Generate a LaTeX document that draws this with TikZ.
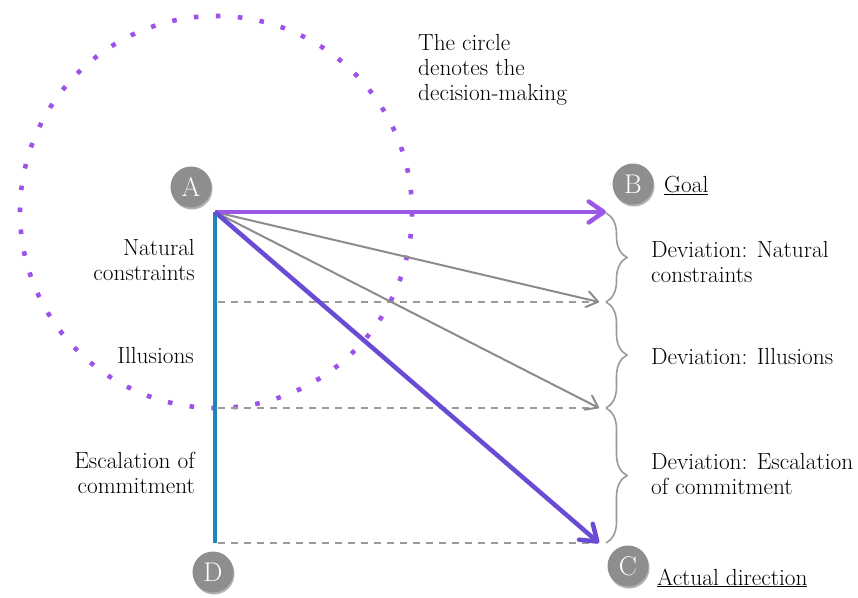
\documentclass[tikz,border=0pt]{standalone}
\usepackage{fontspec}
\usetikzlibrary{arrows.meta,decorations.pathreplacing,shadows}
\definecolor{goalpurple}{HTML}{9D57E6}
\definecolor{actualpurple}{HTML}{6A4CD4}
\definecolor{axisblue}{HTML}{1C86BE}
\definecolor{markgray}{HTML}{8E8E8E}
\definecolor{linegray}{HTML}{8C8C8C}
\definecolor{dashgray}{HTML}{9A9A9A}
\definecolor{dotpurple}{HTML}{9D52E8}

\begin{document}
\begin{tikzpicture}[x=1pt,y=-1pt,
  txt/.style={font=\fontsize{23.3}{25}\selectfont, inner sep=0pt},
  marker/.style={circle, fill=markgray, minimum size=41pt, inner sep=0pt,
    text=white, font=\fontsize{27}{27}\selectfont,
    drop shadow={shadow xshift=1pt, shadow yshift=-2pt, opacity=0.3, fill=black}},
  thickarrow/.style={line width=4.5pt,
    -{Straight Barb[length=15pt,width=21pt,round]}},
  thinarrow/.style={draw=linegray, line width=2pt,
    -{Straight Barb[length=11pt,width=16pt,round]}},
  guide/.style={draw=dashgray, line width=1.8pt, dash pattern=on 7pt off 6pt},
  bracket/.style={draw=dashgray, line width=1.6pt,
    decorate, decoration={brace, amplitude=21pt}},
  ring/.style={draw=dotpurple, line width=4.6pt, dash pattern=on 4.6pt off 17.39pt}
]
\useasboundingbox (0,0) rectangle (858,597);

% decision-making circle drawn as square dots
\draw[ring] (216,212) circle [radius=196];

% anchor points of the diagram
\coordinate (a) at (215,212);
\coordinate (d) at (215,543);
\coordinate (bt) at (606,212);
\coordinate (n1) at (599,302);
\coordinate (n2) at (599,408);
\coordinate (ct) at (599,543);
\coordinate (g1) at (218,302);
\coordinate (g2) at (218,408);
\coordinate (g3) at (218,543);
\coordinate (h1) at (596,302);
\coordinate (h2) at (596,408);
\coordinate (h3) at (596,543);
\coordinate (k0) at (606,213);
\coordinate (k1) at (606,302);
\coordinate (k2) at (606,408);
\coordinate (k3) at (606,543);

% level guides
\draw[guide] (g1) -- (h1);
\draw[guide] (g2) -- (h2);
\draw[guide] (g3) -- (h3);

% vertical axis
\draw[draw=axisblue, line width=4.5pt] (a) -- (d);

% direction arrows
\draw[thinarrow] (a) -- (n1);
\draw[thinarrow] (a) -- (n2);
\draw[thickarrow, draw=goalpurple] (a) -- (bt);
\draw[thickarrow, draw=actualpurple] (a) -- (ct);

% deviation brackets
\draw[bracket] (k0) -- (k1);
\draw[bracket] (k1) -- (k2);
\draw[bracket] (k2) -- (k3);

% point markers
\node[marker] (mA) at (191,187) {A};
\node[marker] (mB) at (633,184) {B};
\node[marker] (mC) at (628,566) {C};
\node[marker] (mD) at (213,572) {D};

% labels (multi-line nodes sit on the baseline of their last line)
\node[txt, anchor=base west, align=left] (note) at (418,100)
  {The circle\\denotes the\\decision-making};
\node[txt, anchor=base east, align=right] (l1) at (195,280)
  {Natural\\constraints};
\node[txt, anchor=base east, align=right] (l2) at (194,363) {Illusions};
\node[txt, anchor=base east, align=right] (l3) at (195,493)
  {Escalation of\\commitment};
\node[txt, anchor=base west, align=left] (r1) at (651,282)
  {Deviation: Natural\\constraints};
\node[txt, anchor=base west, align=left] (r2) at (651,364)
  {Deviation: Illusions};
\node[txt, anchor=base west, align=left] (r3) at (651,494)
  {Deviation: Escalation\\of commitment};
\node[txt, anchor=base west] (goal) at (664,192) {\underline{Goal}};
\node[txt, anchor=base west] (actual) at (657,585) {\underline{Actual direction}};
\end{tikzpicture}
\end{document}
